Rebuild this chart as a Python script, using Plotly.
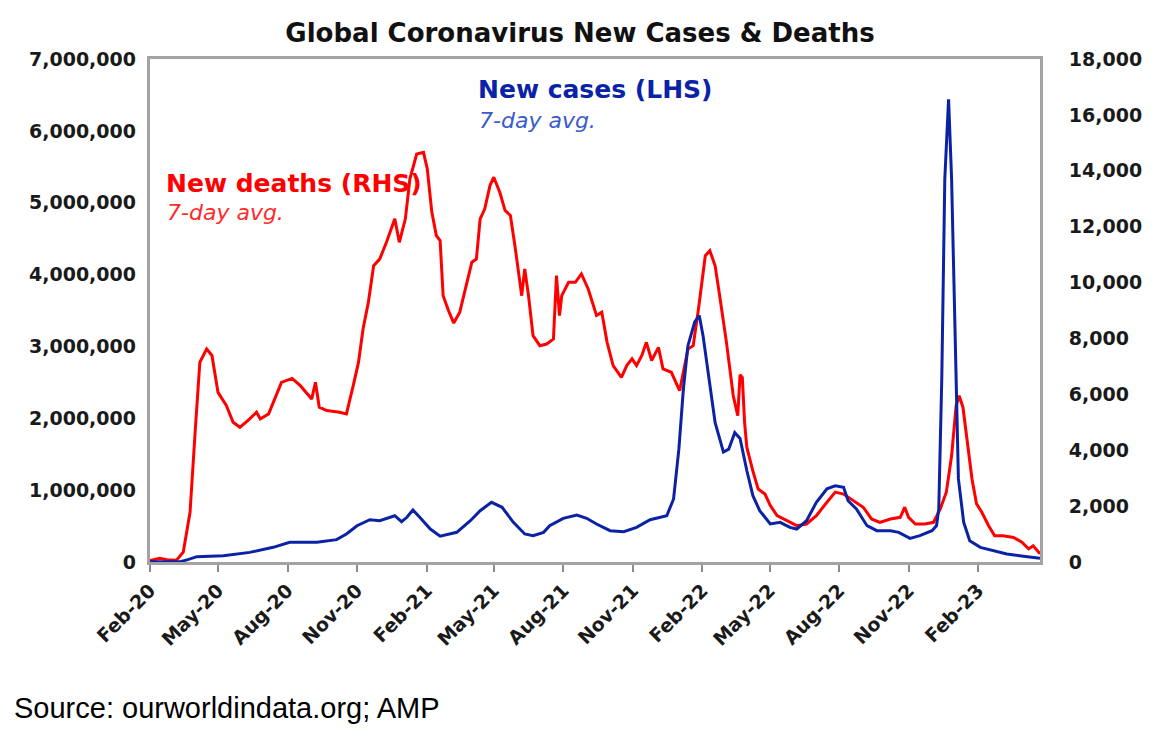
##############################
#  Global covid cases & deaths chart
##############################

import pandas as pd
import plotly.graph_objects as go

##################################################
# Section 1: Data (7-day averages)
##################################################

# New deaths, right hand scale
death_dates = ['2020-02-01', '2020-02-14', '2020-02-23', '2020-03-07', '2020-03-16',
               '2020-03-25', '2020-04-01', '2020-04-07', '2020-04-16', '2020-04-23',
               '2020-05-01', '2020-05-12', '2020-05-21', '2020-05-30', '2020-06-12',
               '2020-06-21', '2020-06-26', '2020-07-07', '2020-07-15', '2020-07-24',
               '2020-08-07', '2020-08-18', '2020-09-02', '2020-09-07', '2020-09-12',
               '2020-09-22', '2020-10-09', '2020-10-18', '2020-10-27', '2020-11-03',
               '2020-11-09', '2020-11-16', '2020-11-23', '2020-12-01', '2020-12-10',
               '2020-12-21', '2020-12-27', '2021-01-04', '2021-01-10', '2021-01-19',
               '2021-01-28', '2021-02-02', '2021-02-08', '2021-02-14', '2021-02-19',
               '2021-02-23', '2021-03-02', '2021-03-09', '2021-03-17', '2021-03-24',
               '2021-04-02', '2021-04-08', '2021-04-13', '2021-04-19', '2021-04-26',
               '2021-05-01', '2021-05-09', '2021-05-16', '2021-05-23', '2021-05-29',
               '2021-06-07', '2021-06-11', '2021-06-16', '2021-06-22', '2021-07-01',
               '2021-07-10', '2021-07-19', '2021-07-23', '2021-07-27', '2021-07-30',
               '2021-08-08', '2021-08-17', '2021-08-25', '2021-09-03', '2021-09-14',
               '2021-09-21', '2021-09-28', '2021-10-06', '2021-10-17', '2021-10-24',
               '2021-10-31', '2021-11-06', '2021-11-13', '2021-11-19', '2021-11-26',
               '2021-12-05', '2021-12-11', '2021-12-22', '2022-01-02', '2022-01-13',
               '2022-01-20', '2022-01-27', '2022-02-05', '2022-02-11', '2022-02-18',
               '2022-02-24', '2022-03-05', '2022-03-14', '2022-03-20', '2022-03-23',
               '2022-03-26', '2022-03-29', '2022-04-01', '2022-04-09', '2022-04-16',
               '2022-04-25', '2022-05-02', '2022-05-11', '2022-05-24', '2022-06-06',
               '2022-06-19', '2022-07-02', '2022-07-16', '2022-07-27', '2022-08-07',
               '2022-08-20', '2022-09-02', '2022-09-13', '2022-09-24', '2022-10-08',
               '2022-10-21', '2022-10-27', '2022-11-01', '2022-11-10', '2022-11-23',
               '2022-12-04', '2022-12-13', '2022-12-21', '2022-12-28', '2023-01-03',
               '2023-01-07', '2023-01-12', '2023-01-17', '2023-01-24', '2023-01-30',
               '2023-02-06', '2023-02-15', '2023-02-23', '2023-03-06', '2023-03-20',
               '2023-03-31', '2023-04-09', '2023-04-15', '2023-04-24']
death_values = [50, 130, 80, 60, 350,
                1780, 4760, 7150, 7620, 7390,
                6070, 5600, 5000, 4820, 5120,
                5360, 5120, 5300, 5830, 6430,
                6570, 6310, 5830, 6430, 5540,
                5420, 5360, 5300, 6310, 7150,
                8340, 9290, 10600, 10840, 11440,
                12280, 11440, 12280, 13710, 14600,
                14660, 14070, 12520, 11680, 11500,
                9530, 9000, 8550, 8940, 9770,
                10730, 10840, 12280, 12630, 13470,
                13770, 13230, 12580, 12400, 11320,
                9530, 10490, 9530, 8100, 7740,
                7800, 7980, 10250, 8820, 9530,
                10010, 10010, 10310, 9770, 8820,
                8940, 7860, 7030, 6610, 7030,
                7270, 7030, 7390, 7860, 7210,
                7680, 6910, 6790, 6130, 7620,
                7740, 9060, 10960, 11140, 10600,
                9530, 7860, 5950, 5240, 6700,
                6600, 5000, 4100, 3250, 2610,
                2430, 2020, 1660, 1480, 1300,
                1360, 1660, 2140, 2500, 2430,
                2190, 1960, 1540, 1420, 1540,
                1600, 1960, 1600, 1360, 1360,
                1420, 1900, 2500, 3800, 5600,
                5950, 5540, 4400, 2970, 2080,
                1780, 1300, 940, 940, 880,
                710, 470, 580, 290]

# New cases, left hand scale
case_dates = ['2020-02-01', '2020-03-12', '2020-03-21', '2020-04-03', '2020-05-08',
              '2020-06-12', '2020-07-13', '2020-08-04', '2020-09-09', '2020-10-05',
              '2020-10-18', '2020-11-01', '2020-11-18', '2020-12-01', '2020-12-21',
              '2020-12-30', '2021-01-06', '2021-01-14', '2021-01-23', '2021-02-06',
              '2021-02-19', '2021-03-08', '2021-03-13', '2021-03-31', '2021-04-13',
              '2021-04-28', '2021-05-12', '2021-05-27', '2021-06-11', '2021-06-22',
              '2021-07-06', '2021-07-14', '2021-08-01', '2021-08-19', '2021-09-01',
              '2021-09-14', '2021-10-02', '2021-10-20', '2021-11-06', '2021-11-24',
              '2021-12-16', '2021-12-25', '2022-01-01', '2022-01-07', '2022-01-13',
              '2022-01-22', '2022-01-28', '2022-02-02', '2022-02-11', '2022-02-18',
              '2022-03-01', '2022-03-08', '2022-03-16', '2022-03-23', '2022-04-01',
              '2022-04-09', '2022-04-18', '2022-05-02', '2022-05-15', '2022-05-28',
              '2022-06-06', '2022-06-19', '2022-07-02', '2022-07-16', '2022-07-27',
              '2022-08-07', '2022-08-13', '2022-08-24', '2022-09-07', '2022-09-20',
              '2022-10-08', '2022-10-19', '2022-11-03', '2022-11-16', '2022-12-02',
              '2022-12-08', '2022-12-11', '2022-12-15', '2022-12-19', '2022-12-24',
              '2022-12-28', '2023-01-02', '2023-01-06', '2023-01-13', '2023-01-21',
              '2023-02-04', '2023-02-21', '2023-03-11', '2023-04-02', '2023-04-24']
case_values = [2000, 5000, 30000, 74000, 88000,
               134000, 204000, 274000, 274000, 311000,
               390000, 505000, 589000, 575000, 644000,
               561000, 622000, 724000, 622000, 459000,
               360000, 404000, 413000, 575000, 714000,
               830000, 761000, 552000, 390000, 366000,
               413000, 505000, 608000, 654000, 608000,
               529000, 436000, 422000, 482000, 589000,
               644000, 877000, 1570000, 2410000, 3010000,
               3340000, 3430000, 3150000, 2500000, 1940000,
               1530000, 1570000, 1800000, 1720000, 1270000,
               923000, 715000, 529000, 552000, 482000,
               459000, 575000, 830000, 1020000, 1060000,
               1040000, 853000, 738000, 505000, 436000,
               436000, 413000, 329000, 366000, 436000,
               505000, 738000, 2550000, 5330000, 6440000,
               5330000, 2780000, 1160000, 552000, 297000,
               204000, 158000, 111000, 79000, 51000]

df_deaths = pd.DataFrame({'Date': pd.to_datetime(death_dates), 'New deaths': death_values})
df_cases = pd.DataFrame({'Date': pd.to_datetime(case_dates), 'New cases': case_values})

##################################################
# Section 2: Figure
##################################################

red = '#ff0000'
blue = '#0c22a5'
frame = '#a3a3a3'
tick_font = dict(family='DejaVu Sans', size=19, color='#1a1a1a', weight='bold')

# page body has an 8px margin, so the figure is 8px smaller each way
W, H = 1151, 734

fig = go.Figure()

# deaths on the (right) base axis, cases on the overlaying left axis so blue sits on top
fig.add_trace(go.Scatter(x=df_deaths['Date'], y=df_deaths['New deaths'], mode='lines',
                         line=dict(color=red, width=3), yaxis='y', showlegend=False))
fig.add_trace(go.Scatter(x=df_cases['Date'], y=df_cases['New cases'], mode='lines',
                         line=dict(color=blue, width=3), yaxis='y2', showlegend=False))

fig.update_layout(
    width=W, height=H,
    margin=dict(l=142, r=119, t=51, b=180),
    paper_bgcolor='white', plot_bgcolor='white',
    title=dict(text='Global Coronavirus New Cases & Deaths',
               font=dict(family='DejaVu Sans', size=26, color='#111111', weight='bold'),
               x=(580 - 8) / W, xanchor='center', xref='container',
               y=1 - 25 / H, yanchor='middle', yref='container'),
    xaxis=dict(type='date', range=['2020-02-01', '2023-04-24'],
               tick0='2020-02-01', dtick='M3', tickformat='%b-%y', tickangle=-45,
               ticks='outside', ticklen=7, tickwidth=2, tickcolor='#8c8c8c',
               tickfont=tick_font, showgrid=False, zeroline=False,
               showline=True, linecolor=frame, linewidth=3, mirror=True),
    yaxis=dict(range=[0, 18000], dtick=2000, tickformat=',', side='right',
               tickfont=tick_font, ticklabelstandoff=22, showgrid=False, zeroline=False,
               showline=True, linecolor=frame, linewidth=3, mirror=True),
    yaxis2=dict(range=[0, 7000000], dtick=1000000, tickformat=',', side='left',
                overlaying='y', tickfont=tick_font, ticklabelstandoff=13,
                showgrid=False, zeroline=False, showline=False),
)

# series labels inside the plot
fig.add_annotation(text='New cases (LHS)', xref='paper', yref='paper', x=0.366, y=0.940,
                   xanchor='left', yanchor='middle', showarrow=False,
                   font=dict(family='DejaVu Sans', size=25, color='#0a22a8', weight='bold'))
fig.add_annotation(text='7-day avg.', xref='paper', yref='paper', x=0.367, y=0.877,
                   xanchor='left', yanchor='middle', showarrow=False,
                   font=dict(family='DejaVu Sans', size=22, color='#3a5ad0', style='italic'))
fig.add_annotation(text='New deaths (RHS)', xref='paper', yref='paper', x=0.016, y=0.752,
                   xanchor='left', yanchor='middle', showarrow=False,
                   font=dict(family='DejaVu Sans', size=25, color=red, weight='bold'))
fig.add_annotation(text='7-day avg.', xref='paper', yref='paper', x=0.017, y=0.695,
                   xanchor='left', yanchor='middle', showarrow=False,
                   font=dict(family='DejaVu Sans', size=22, color='#ff2a2a', style='italic'))

# source line under the chart
fig.add_annotation(text='Source: ourworldindata.org; AMP', xref='paper', yref='paper',
                   x=-0.155, y=-0.290, xanchor='left', yanchor='middle', showarrow=False,
                   font=dict(family='Liberation Sans', size=29, color='#000000'))

fig.write_html('out.html')
